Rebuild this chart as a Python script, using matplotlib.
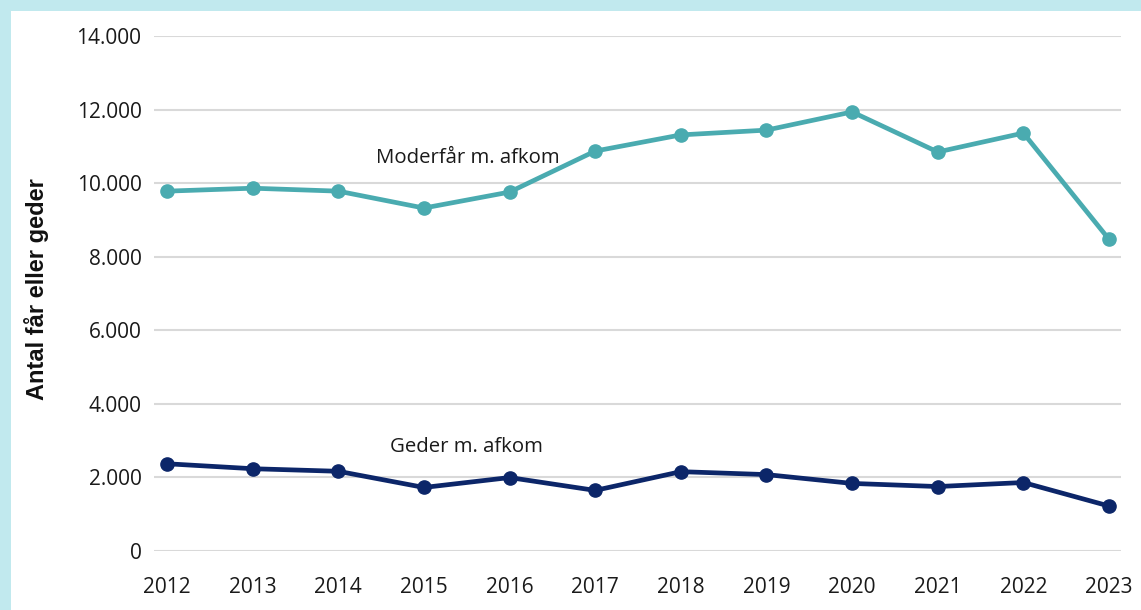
import matplotlib
matplotlib.use("Agg")
import matplotlib.pyplot as plt
from matplotlib.patches import Rectangle

years = [2012, 2013, 2014, 2015, 2016, 2017, 2018, 2019, 2020, 2021, 2022, 2023]
moderfaar = [9780, 9860, 9780, 9320, 9755, 10870, 11310, 11440, 11935, 10845, 11360, 8470]
geder = [2365, 2230, 2160, 1720, 1990, 1640, 2150, 2070, 1830, 1745, 1855, 1215]
yticks = [0, 2000, 4000, 6000, 8000, 10000, 12000, 14000]
ytick_labels = ["0", "2.000", "4.000", "6.000", "8.000", "10.000", "12.000", "14.000"]

TEAL = "#4aabb0"
NAVY = "#0c2669"
BORDER = "#c1e9ee"
TXT = "#1a1a1a"

W, H = 1141, 610
fig = plt.figure(figsize=(W / 100, H / 100), dpi=100)
fig.patch.set_facecolor(BORDER)
fig.patches.append(Rectangle((11 / W, 0), 1 - 11 / W, 1 - 11 / H, transform=fig.transFigure,
                             facecolor="white", edgecolor="none", zorder=-5))

left, right = 154 / W, 1121 / W
bottom, top = (H - 550.7) / H, (H - 36) / H
ax = fig.add_axes([left, bottom, right - left, top - bottom])
ax.set_facecolor("none")
ax.set_zorder(2)

ax.set_xlim(2011.848, 2023.14)
ax.set_ylim(0, 14000)
ax.set_yticks(yticks)
ax.set_yticklabels(ytick_labels)
ax.set_xticks(years)
ax.set_xticklabels([str(y) for y in years])
ax.grid(axis="y", color="#d9d9d9", linewidth=1.5)
ax.set_axisbelow(True)
for s in ax.spines.values():
    s.set_visible(False)
ax.tick_params(axis="both", length=0, labelsize=15, colors=TXT)
ax.tick_params(axis="y", pad=9)
ax.tick_params(axis="x", pad=19)
for lab in ax.get_xticklabels() + ax.get_yticklabels():
    lab.set_family("Open Sans")

ax.plot(years, moderfaar, color=TEAL, linewidth=3.4, marker="o", markersize=9.5, clip_on=False, zorder=3)
ax.plot(years, geder, color=NAVY, linewidth=3.4, marker="o", markersize=9.5, clip_on=False, zorder=3)

ax.text(2015.51, 10684, "Moderfår m. afkom", ha="center", va="center", fontsize=14.7,
        family="Open Sans", color=TXT)
ax.text(2015.5, 2814, "Geder m. afkom", ha="center", va="center", fontsize=14.7,
        family="Open Sans", color=TXT)

fig.text(37 / W, 1 - 289 / H, "Antal får eller geder", rotation=90, ha="center", va="center",
         fontsize=17, fontweight="bold", family="Liberation Sans", color="#111111")

fig.savefig("out.png", dpi=100, facecolor=fig.get_facecolor())
